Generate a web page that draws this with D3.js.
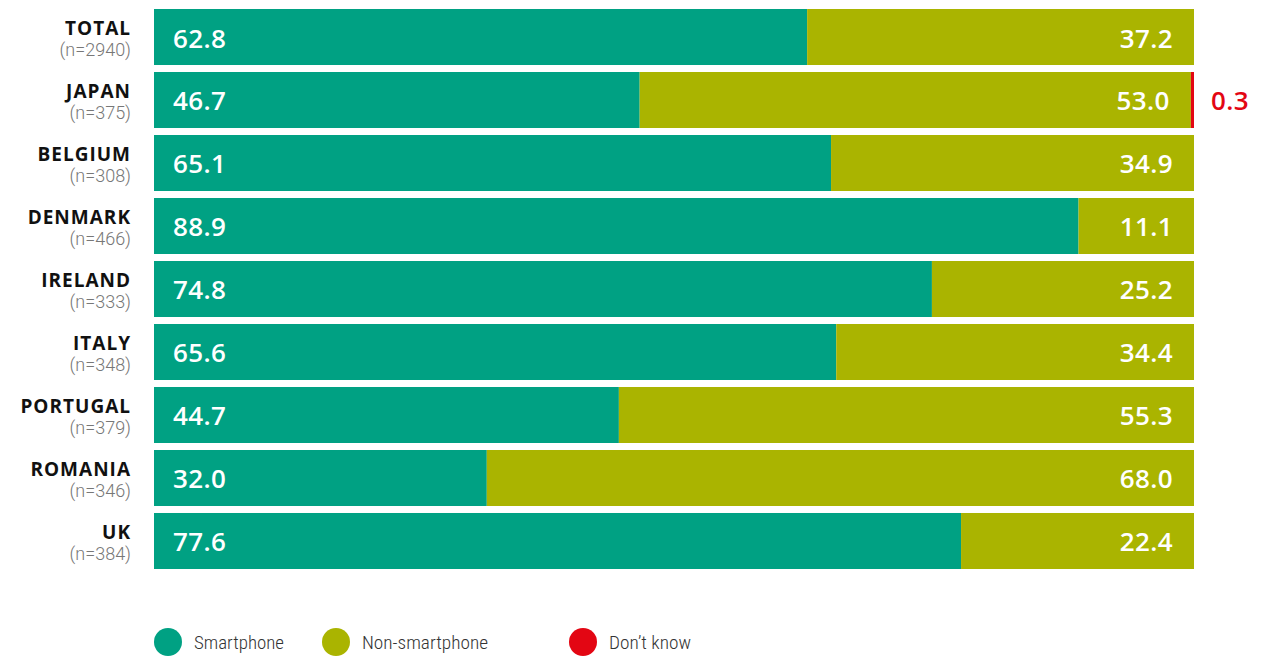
<!DOCTYPE html>
<html>
<head>
<meta charset="utf-8">
<script src="https://cdn.jsdelivr.net/npm/d3@7"></script>
<style>
  html, body { margin: 0; padding: 0; background: #fff; }
  svg { display: block; }
</style>
</head>
<body>
<svg id="chart" width="1262" height="657"></svg>
<script>
// Share of smartphone owners by country (%)
const countries = ["TOTAL", "JAPAN", "BELGIUM", "DENMARK", "IRELAND", "ITALY", "PORTUGAL", "ROMANIA", "UK"];
const sampleSizes = ["(n=2940)", "(n=375)", "(n=308)", "(n=466)", "(n=333)", "(n=348)", "(n=379)", "(n=346)", "(n=384)"];
const smartphone = [62.8, 46.7, 65.1, 88.9, 74.8, 65.6, 44.7, 32.0, 77.6];
const nonSmartphone = [37.2, 53.0, 34.9, 11.1, 25.2, 34.4, 55.3, 68.0, 22.4];
const dontKnow = [0, 0.3, 0, 0, 0, 0, 0, 0, 0];
const seriesNames = ["Smartphone", "Non-smartphone", "Don\u2019t know"];
const seriesColors = ["#00a183", "#aab400", "#e30613"];

const rows = countries.map((c, i) => ({
  country: c, n: sampleSizes[i],
  values: [smartphone[i], nonSmartphone[i], dontKnow[i]]
}));

const svg = d3.select("#chart");
const x = d3.scaleLinear().domain([0, 100]).range([154, 1194]);
const y = d3.scaleBand().domain(countries).range([9, 569]).paddingInner(0.111).paddingOuter(0);
const bw = y.bandwidth();

const row = svg.selectAll("g.row").data(rows).join("g")
  .attr("class", "row")
  .attr("transform", d => `translate(0,${y(d.country)})`);

// stacked segments
row.each(function (d) {
  const g = d3.select(this);
  let acc = 0;
  d.values.forEach((v, k) => {
    if (v > 0) {
      g.append("rect")
        .attr("x", x(acc))
        .attr("y", 0)
        .attr("width", x(acc + v) - x(acc))
        .attr("height", bw)
        .attr("fill", seriesColors[k]);
    }
    acc += v;
  });
});

const valueFont = "'Open Sans', 'Noto Sans', sans-serif";

function valueText(sel) {
  return sel
    .attr("y", bw / 2 + 10.5)
    .attr("font-family", valueFont)
    .attr("font-size", 26)
    .attr("font-weight", 600)
    .attr("letter-spacing", 0.4);
}

// smartphone value, left inside bar
row.append("text")
  .call(valueText)
  .attr("x", x(0) + 19)
  .attr("fill", "#fff")
  .text(d => d.values[0].toFixed(1));

// non-smartphone value, right inside bar
row.append("text")
  .call(valueText)
  .attr("x", d => x(d.values[0] + d.values[1]) - 21)
  .attr("text-anchor", "end")
  .attr("fill", "#fff")
  .text(d => d.values[1].toFixed(1));

// don't know value, outside bar
row.filter(d => d.values[2] > 0).append("text")
  .call(valueText)
  .attr("x", x(100) + 17)
  .attr("fill", seriesColors[2])
  .text(d => d.values[2].toFixed(1));

// country labels
row.append("text")
  .attr("x", 131)
  .attr("y", 26)
  .attr("text-anchor", "end")
  .attr("fill", "#111")
  .attr("font-family", valueFont)
  .attr("font-size", 19)
  .attr("font-weight", 700)
  .attr("letter-spacing", 1)
  .text(d => d.country);

row.append("text")
  .attr("x", 131)
  .attr("y", 47)
  .attr("text-anchor", "end")
  .attr("fill", "#777")
  .attr("font-family", "'Roboto', sans-serif")
  .attr("font-size", 18)
  .attr("font-weight", 300)
  .text(d => d.n);

// legend
const legendX = [168, 336, 583];
const legend = svg.selectAll("g.legend").data(seriesNames).join("g")
  .attr("class", "legend")
  .attr("transform", (d, i) => `translate(${legendX[i]},642)`);
legend.append("circle").attr("r", 14).attr("fill", (d, i) => seriesColors[i]);
legend.append("text")
  .attr("x", 26)
  .attr("y", 7)
  .attr("fill", "#333")
  .attr("font-family", "'Roboto Condensed', 'Roboto', sans-serif")
  .attr("font-size", 18)
  .attr("font-weight", 300)
  .attr("textLength", (d, i) => [90, 126, 82][i])
  .attr("lengthAdjust", "spacingAndGlyphs")
  .text(d => d);
</script>
</body>
</html>
